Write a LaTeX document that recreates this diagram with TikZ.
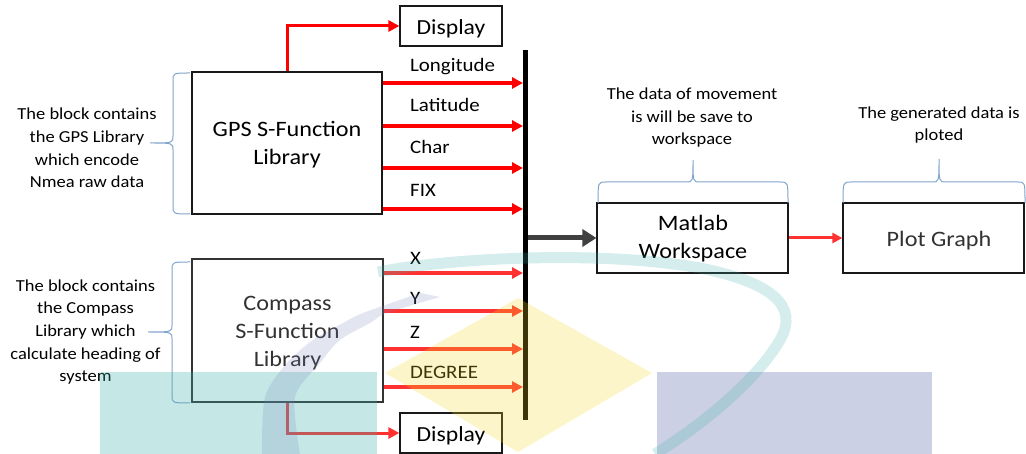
\documentclass[tikz,border=0pt]{standalone}
\usepackage{fontspec}
\setmainfont{Carlito}[FakeStretch=1.1]
\usetikzlibrary{arrows.meta}
\definecolor{wmteal}{RGB}{62,178,172}
\definecolor{wmblue}{RGB}{82,98,165}
\definecolor{wmyellow}{RGB}{245,215,38}
\definecolor{bracecol}{RGB}{130,165,205}
\definecolor{sigred}{RGB}{255,0,0}
\definecolor{sigred2}{RGB}{255,50,50}
\definecolor{darkarrow}{RGB}{64,64,64}
\definecolor{graytext}{RGB}{50,50,50}
\tikzset{
  box/.style={draw=black!90, line width=1.2pt, inner sep=0pt},
  boxtext/.style={font=\fontsize{22}{28}\selectfont, align=center, anchor=base, inner sep=0pt},
  disptext/.style={font=\fontsize{21.5}{26}\selectfont, anchor=base, inner sep=0pt},
  labtext/.style={font=\fontsize{19}{22}\selectfont, anchor=base west, inner sep=0pt},
  anntext/.style={font=\fontsize{16.8}{22.7}\selectfont, align=center, anchor=base, inner sep=0pt},
  sig/.style={draw=sigred, line width=3.5pt, -{Triangle[length=11pt,width=11pt]}},
  sigb/.style={draw=sigred2, line width=3.5pt, -{Triangle[length=11pt,width=11pt]}},
  bigarrow/.style={draw=darkarrow, line width=5pt, -{Triangle[length=14pt,width=17pt]}},
  bracepath/.style={draw=bracecol, line width=1pt},
  wm/.style={opacity=0.3}
}
\begin{document}
\begin{tikzpicture}[x=1pt,y=-1pt]
\useasboundingbox (0,0) rectangle (1026,454);
% boxes
\node[box, minimum width=190pt, minimum height=142pt] (gps) at (287,143) {};
\node[box, draw=black!80, minimum width=191pt, minimum height=143pt] (comp) at (287.5,330.5) {};
\node[box, minimum width=102pt, minimum height=40pt] (disp1) at (451,26) {};
\node[box, minimum width=102pt, minimum height=40pt] (disp2) at (451,433) {};
\node[box, minimum width=191pt, minimum height=70pt] (mat) at (692.5,238) {};
\node[box, minimum width=181pt, minimum height=70pt] (plot) at (933.5,238) {};
\node[fill=black, minimum width=5pt, minimum height=370pt, inner sep=0pt] (bar) at (525,235) {};
% box texts (base anchor = last line baseline)
\node[boxtext] (gpst) at (287,165) {GPS S-Function\\Library};
\node[boxtext, text=graytext] (compt) at (287.5,367) {Compass\\S-Function\\Library};
\node[boxtext] (matt) at (693,259) {Matlab\\Workspace};
\node[boxtext, text=graytext] (plott) at (939,247) {Plot Graph};
\node[disptext] (d1t) at (451,35) {Display};
\node[disptext] (d2t) at (451,442) {Display};
% signal coordinates on bar
\coordinate (b1) at (523,83);
\coordinate (b2) at (523,126);
\coordinate (b3) at (523,168);
\coordinate (b4) at (523,209);
\coordinate (b5) at (523,273);
\coordinate (b6) at (523,311);
\coordinate (b7) at (523,349);
\coordinate (b8) at (523,387);
\draw[sig] (gps.east |- b1) -- (b1);
\draw[sig] (gps.east |- b2) -- (b2);
\draw[sig] (gps.east |- b3) -- (b3);
\draw[sig] (gps.east |- b4) -- (b4);
\draw[sigb] (comp.east |- b5) -- (b5);
\draw[sigb] (comp.east |- b6) -- (b6);
\draw[sigb] (comp.east |- b7) -- (b7);
\draw[sigb] (comp.east |- b8) -- (b8);
% labels
\node[labtext] (l1) at (410,72) {Longitude};
\node[labtext] (l2) at (410,112) {Latitude};
\node[labtext] (l3) at (410,154) {Char};
\node[labtext] (l4) at (410,197) {FIX};
\node[labtext] (l5) at (410,265) {X};
\node[labtext] (l6) at (410,305) {Y};
\node[labtext] (l7) at (410,339) {Z};
\node[labtext] (l8) at (410,378) {DEGREE};
% display arrows
\draw[sig, line width=3pt] (gps.north) |- (disp1.west);
\draw[sigb, line width=3pt] (comp.south) |- (disp2.west);
% to workspace and plot
\draw[bigarrow] (bar.east |- mat.west) -- (mat.west);
\draw[sigb, line width=3pt, -{Triangle[length=10pt,width=10pt]}] (mat.east) -- (plot.west);
% annotations
\node[anntext] (a1) at (87,188) {The block contains\\the GPS Library\\which encode\\Nmea raw data};
\node[anntext] (a2) at (85.5,382) {The block contains\\the Compass\\Library which\\calculate heading of\\system};
\node[anntext] (a3) at (692,145) {The data of movement\\is will be save to\\workspace};
\node[anntext] (a4) at (939,141) {The generated data is\\ploted};
% braces
\draw[bracepath] (190,73) .. controls (173,73) .. (173,81) -- (173,136) .. controls (173,143) .. (150,143)
   .. controls (173,143) .. (173,150) -- (173,206) .. controls (173,214) .. (190,214);
\draw[bracepath] (190,262) .. controls (172,262) .. (172,270) -- (172,325) .. controls (172,332) .. (148,332)
   .. controls (172,332) .. (172,339) -- (172,395) .. controls (172,403) .. (190,403);
\draw[bracepath] (598,203) .. controls (598,182) .. (606,182) -- (686,182) .. controls (693,182) .. (693,160)
   .. controls (693,182) .. (700,182) -- (780,182) .. controls (788,182) .. (788,203);
\draw[bracepath] (843,203) .. controls (843,182) .. (851,182) -- (932,182) .. controls (939,182) .. (939,159)
   .. controls (939,182) .. (946,182) -- (1018,182) .. controls (1025,182) .. (1025,203);
% watermark
\fill[wm, wmteal] (100,372) rectangle (377,454);
\fill[wm, wmblue] (657,372) rectangle (932,454);
\fill[opacity=0.25, wmyellow] (518,298) -- (652,373) -- (518,452) -- (385,373) -- cycle;
\fill[opacity=0.2, wmblue!80!white] plot[smooth] coordinates {(262,454) (265,397) (287,363) (313,340) (343,323) (363,313) (420,293)}
   -- plot[smooth] coordinates {(440,297) (387,313) (370,323) (340,340) (320,363) (295,397) (300,454)} -- cycle;
\draw[opacity=0.22, wmteal, line width=11pt] (378,272) .. controls (450,258) and (600,250) .. (700,268)
   .. controls (770,282) and (800,305) .. (780,340) .. controls (760,375) and (710,420) .. (655,454);
\end{tikzpicture}
\end{document}
